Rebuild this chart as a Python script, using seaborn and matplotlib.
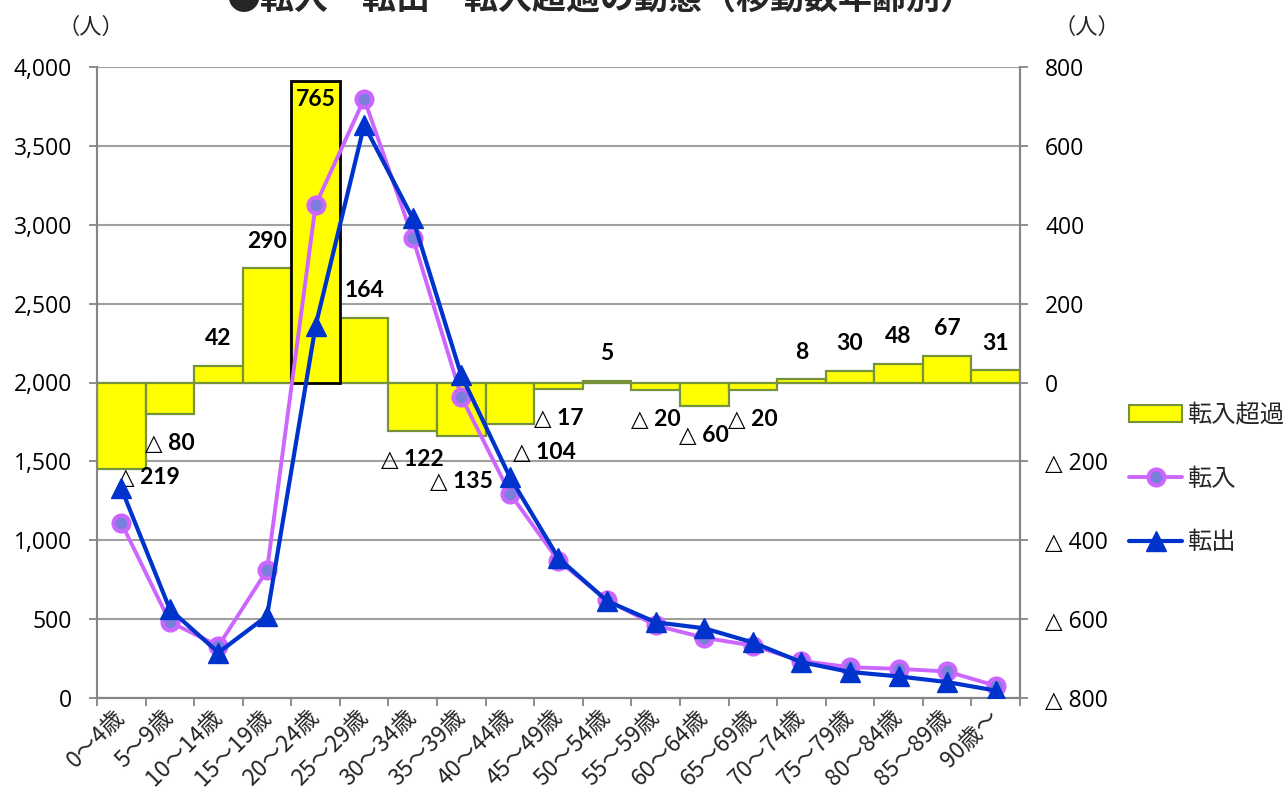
import numpy as np
import matplotlib
matplotlib.use("Agg")
import matplotlib.pyplot as plt
from matplotlib.lines import Line2D
from matplotlib.patches import Patch
import seaborn as sns

# ---- data -------------------------------------------------------------
age_groups = ["0～4歳", "5～9歳", "10～14歳", "15～19歳", "20～24歳", "25～29歳",
              "30～34歳", "35～39歳", "40～44歳", "45～49歳", "50～54歳", "55～59歳",
              "60～64歳", "65～69歳", "70～74歳", "75～79歳", "80～84歳", "85～89歳",
              "90歳～"]
net_inflow = [-219, -80, 42, 290, 765, 164, -122, -135, -104, -17, 5, -20, -60,
              -20, 8, 30, 48, 67, 31]
move_in = [1110, 482, 330, 810, 3125, 3797, 2918, 1910, 1296, 870, 620, 460, 382,
           332, 235, 195, 185, 168, 78]
move_out = [1329, 562, 288, 520, 2360, 3633, 3040, 2045, 1400, 887, 615, 480, 442,
            352, 227, 165, 137, 101, 47]
series_names = ["転入超過", "転入", "転出"]
left_ticks = [0, 500, 1000, 1500, 2000, 2500, 3000, 3500, 4000]
right_ticks = [-800, -600, -400, -200, 0, 200, 400, 600, 800]
title_text = "●転入・転出・転入超過の動態（移動数年齢別）"
unit_text = "（人）"

# ---- style ------------------------------------------------------------
sns.set_style("white")
plt.rcParams["font.family"] = ["Noto Sans CJK JP", "DejaVu Sans"]

BAR_FILL = "#FFFF00"
BAR_EDGE = "#76923C"
IN_LINE = "#CC66FF"
IN_FACE = "#7B7FDC"
OUT_BLUE = "#0033CC"
GRID = "#A0A0A0"
SPINE = "#868686"
LABEL_FONT = ["Lato", "DejaVu Sans"]
TICK_FONT = ["Open Sans", "DejaVu Sans"]


def signed(v):
    return f"{v:,}" if v >= 0 else f"△ {abs(v):,}"


W, H = 1287, 797
fig = plt.figure(figsize=(W / 100, H / 100), dpi=100)
ax_bar = fig.add_axes([97 / W, 1 - 698 / H, (1020 - 97) / W, (698 - 67) / H])

# net inflow bars on the right-hand scale
sns.barplot(x=age_groups, y=net_inflow, order=age_groups, ax=ax_bar,
            color=BAR_FILL, saturation=1, width=1.0, edgecolor=BAR_EDGE,
            linewidth=1.6, zorder=2)
peak = int(np.argmax(net_inflow))
ax_bar.patches[peak].set_edgecolor("black")
ax_bar.patches[peak].set_linewidth(2.0)
ax_bar.patches[peak].set_zorder(3)

# value labels for the bars
default_dy = {True: 19.5, False: -21.0}
special = {0: (19.5, -6.0), 4: (0, -13.5), 7: (0, -33.0), 8: (25.0, -21.0)}
for i, v in enumerate(net_inflow):
    dx, dy = special.get(i, (0, default_dy[v >= 0]))
    ax_bar.annotate(signed(v), xy=(i, v), xytext=(dx, dy),
                    textcoords="offset points", ha="center", va="center",
                    fontsize=16.5, fontweight="bold", family=LABEL_FONT,
                    color="black", zorder=4)

# in / out migration lines on the left-hand scale
ax_line = ax_bar.twinx()
sns.pointplot(x=age_groups, y=move_in, order=age_groups, ax=ax_line,
              color=IN_LINE, markers="o", linestyles="-", errorbar=None,
              linewidth=2.8, markersize=11.5, markerfacecolor=IN_FACE,
              markeredgecolor=IN_LINE, markeredgewidth=3.0, zorder=5)
sns.pointplot(x=age_groups, y=move_out, order=age_groups, ax=ax_line,
              color=OUT_BLUE, markers="^", linestyles="-", errorbar=None,
              linewidth=3.0, markersize=15, markerfacecolor=OUT_BLUE,
              markeredgecolor=OUT_BLUE, markeredgewidth=1.0, zorder=6)

# scales
ax_bar.set_xlim(-0.5, len(age_groups) - 0.5)
ax_bar.set_ylim(-800, 800)
ax_line.set_ylim(0, 4000)
for a in (ax_bar, ax_line):
    a.set_xlabel("")
    a.set_ylabel("")

# right axis: net inflow scale
ax_bar.yaxis.tick_right()
ax_bar.set_yticks(right_ticks)
ax_bar.set_yticklabels([signed(v) for v in right_ticks], family=TICK_FONT)
ax_bar.tick_params(axis="y", which="major", length=6, width=1.3, color=SPINE,
                   pad=12, labelsize=16.5, labelcolor="black",
                   right=True, left=False, labelright=True, labelleft=False)
ax_bar.grid(axis="y", color=GRID, linewidth=1.5)
ax_bar.set_axisbelow(True)

# left axis: number of movers
ax_line.yaxis.tick_left()
ax_line.set_yticks(left_ticks)
ax_line.set_yticklabels([f"{v:,}" for v in left_ticks], family=TICK_FONT)
ax_line.tick_params(axis="y", which="major", length=6, width=1.3, color=SPINE,
                    pad=12, labelsize=16.5, labelcolor="black",
                    left=True, right=False, labelleft=True, labelright=False)
ax_line.grid(False)

# category axis
ax_bar.set_xticks(range(len(age_groups)))
ax_bar.set_xticklabels(age_groups, rotation=45, ha="right", va="center",
                       rotation_mode="anchor", fontsize=16.5)
ax_bar.set_xticks(np.arange(-0.5, len(age_groups), 1.0), minor=True)
ax_bar.tick_params(axis="x", which="major", length=0, pad=11,
                   bottom=True, labelbottom=True)
ax_bar.tick_params(axis="x", which="minor", length=6, width=1.3, color=SPINE,
                   bottom=True)
ax_line.tick_params(axis="x", which="both", bottom=False, top=False)

# frame
for a in (ax_bar, ax_line):
    a.spines["top"].set_visible(False)
    for side in ("left", "right", "bottom"):
        a.spines[side].set_color(SPINE)
        a.spines[side].set_linewidth(1.5)

# legend
handles = [
    Patch(facecolor=BAR_FILL, edgecolor=BAR_EDGE, linewidth=1.5),
    Line2D([0], [0], color=IN_LINE, lw=2.8, marker="o", markersize=11.5,
           markerfacecolor=IN_FACE, markeredgecolor=IN_LINE, markeredgewidth=3.0),
    Line2D([0], [0], color=OUT_BLUE, lw=3.0, marker="^", markersize=15,
           markerfacecolor=OUT_BLUE, markeredgecolor=OUT_BLUE),
]
fig.legend(handles, series_names, loc="upper left",
           bbox_to_anchor=(1129 / W, 1 - 402 / H), frameon=False, fontsize=17.5,
           handlelength=2.2, handletextpad=0.2, labelspacing=1.55,
           borderaxespad=0, borderpad=0)

# units and title
fig.text(91 / W, 1 - 27 / H, unit_text, ha="center", va="center", fontsize=16)
fig.text(1087 / W, 1 - 27 / H, unit_text, ha="center", va="center", fontsize=16)
fig.text(600 / W, 1 - 9 / H, title_text, ha="center", va="baseline",
         fontsize=24.5, fontweight="bold")

fig.savefig("out.png", dpi=100)
